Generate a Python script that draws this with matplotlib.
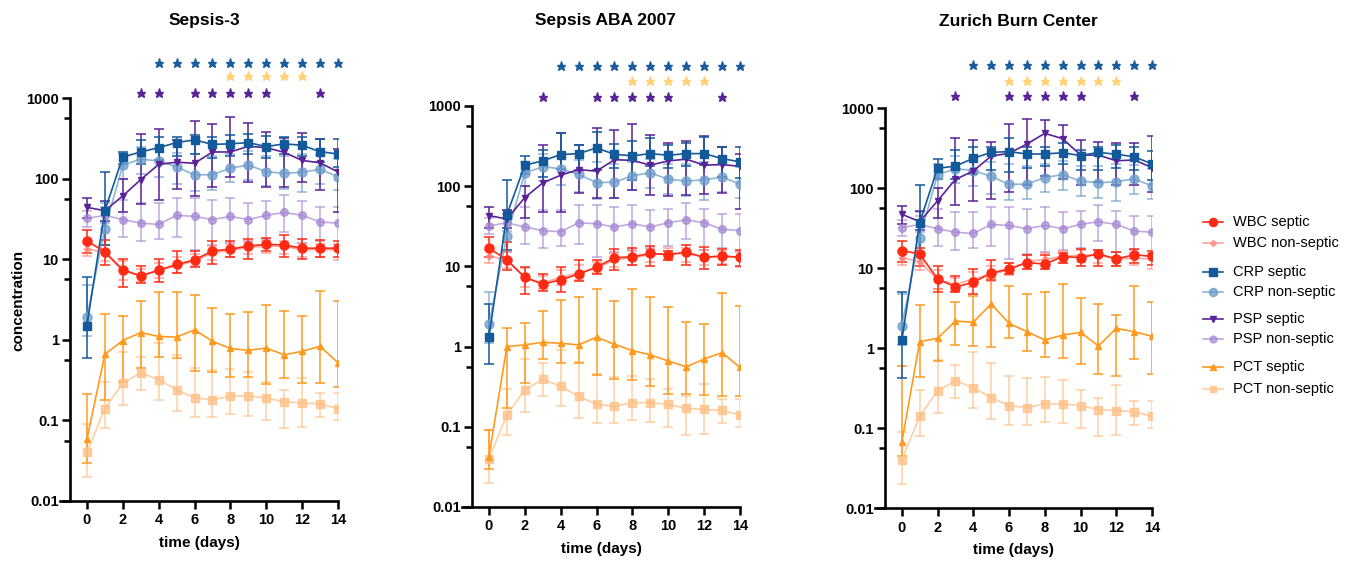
import numpy as np
import matplotlib.pyplot as plt
from matplotlib.lines import Line2D
from matplotlib.ticker import FixedLocator, FormatStrFormatter, NullFormatter

plt.rcParams['font.family'] = ['Liberation Sans', 'DejaVu Sans']

days = list(range(15))
titles = ["Sepsis-3", "Sepsis ABA 2007", "Zurich Burn Center"]
y_ticks = [0.01, 0.1, 1, 10, 100, 1000]

# non-septic groups (shared by the three definitions)
wbc_ns = [13.5, 12.0, 7.2, 6.2, 7.3, 8.3, 9.5, 12.0, 12.8, 14.0, 14.5, 14.5, 13.0, 13.2, 13.0]
wbc_ns_lo = [11, 9.5, 5.5, 5.2, 5.8, 6.8, 8.2, 9.8, 10.5, 11.5, 12, 11.5, 10.5, 10.8, 9.8]
wbc_ns_hi = [16, 15, 9.5, 7.6, 9.0, 10.5, 11.5, 14.5, 15.5, 16.5, 17, 17, 16, 15.5, 15.5]
crp_ns = [1.9, 24, 146, 175, 165, 140, 111, 112, 135, 147, 122, 116, 120, 130, 106]
crp_ns_lo = [1.1, 15, 100, 115, 105, 85, 70, 72, 90, 95, 80, 75, 68, 85, 72]
crp_ns_hi = [4.8, 50, 200, 250, 240, 210, 200, 190, 200, 220, 190, 190, 200, 195, 175]
psp_ns = [32, 35, 31, 28, 27, 35, 34, 31, 34, 31, 35, 38, 35, 29, 28]
psp_ns_lo = [25, 28, 19, 17, 18, 19, 13, 15, 16, 17, 18, 22, 16, 17, 15]
psp_ns_hi = [40, 45, 55, 50, 50, 58, 58, 55, 58, 50, 52, 62, 52, 45, 45]
pct_ns = [0.04, 0.14, 0.29, 0.39, 0.32, 0.24, 0.19, 0.18, 0.20, 0.20, 0.19, 0.17, 0.165, 0.16, 0.14]
pct_ns_lo = [0.02, 0.08, 0.155, 0.24, 0.18, 0.13, 0.11, 0.11, 0.12, 0.115, 0.10, 0.08, 0.082, 0.11, 0.10]
pct_ns_hi = [0.09, 0.30, 0.70, 0.62, 0.90, 0.65, 0.45, 0.42, 0.43, 0.40, 0.30, 0.24, 0.34, 0.22, 0.22]

# Sepsis-3
wbc_s1 = [16.9, 12.3, 7.4, 6.2, 7.3, 8.6, 9.8, 12.7, 13.3, 14.6, 15.3, 15.0, 13.7, 13.7, 13.7]
wbc_s1_lo = [12, 8.5, 4.5, 5.0, 5.2, 6.8, 8.0, 8.8, 10.5, 10.0, 12.5, 10.5, 10.0, 10.5, 10.5]
wbc_s1_hi = [23, 17.5, 10, 8.2, 10, 12.5, 12.5, 17, 17, 18, 18.5, 20, 18, 17.5, 17]
crp_s1 = [1.5, 40, 185, 214, 242, 280, 302, 266, 270, 280, 249, 270, 259, 216, 202]
crp_s1_lo = [0.6, 15, 150, 150, 170, 190, 200, 180, 190, 200, 180, 200, 190, 160, 140]
crp_s1_hi = [6.0, 120, 215, 300, 330, 330, 350, 330, 350, 360, 340, 330, 330, 310, 310]
psp_s1 = [44, 40, 61, 97, 150, 160, 155, 214, 214, 252, 242, 212, 168, 157, 121]
psp_s1_lo = [32, 30, 38, 48, 55, 75, 60, 78, 105, 92, 78, 78, 90, 72, 38]
psp_s1_hi = [58, 52, 100, 360, 410, 300, 520, 470, 580, 490, 380, 320, 370, 310, 230]
pct_s1 = [0.058, 0.66, 0.98, 1.23, 1.1, 1.08, 1.33, 0.96, 0.78, 0.74, 0.79, 0.65, 0.72, 0.83, 0.52]
pct_s1_lo = [0.03, 0.18, 0.30, 0.45, 0.62, 0.6, 0.41, 0.40, 0.35, 0.35, 0.28, 0.34, 0.29, 0.29, 0.26]
pct_s1_hi = [0.21, 2.1, 2.0, 3.0, 3.9, 3.9, 3.6, 2.5, 2.1, 2.2, 2.7, 2.3, 2.0, 4.0, 3.0]

# Sepsis ABA 2007
wbc_s2 = [16.9, 12.1, 7.3, 6.0, 6.8, 8.0, 9.8, 12.8, 13.2, 14.5, 14.0, 15.0, 13.0, 13.5, 13.0]
wbc_s2_lo = [13, 9, 4.5, 5.0, 4.8, 6.5, 8.0, 9.0, 10.5, 10.0, 12.0, 10.5, 9.3, 10.5, 10.0]
wbc_s2_hi = [23, 20, 9.8, 8.0, 9.8, 12.0, 12.0, 16.5, 17, 18, 15.5, 18.5, 17.5, 16.5, 16.0]
crp_s2 = [1.3, 44, 183, 207, 248, 255, 300, 250, 239, 255, 243, 255, 255, 221, 201]
crp_s2_lo = [0.6, 16, 140, 130, 165, 160, 160, 170, 120, 180, 170, 180, 185, 130, 125]
crp_s2_hi = [3.4, 120, 235, 280, 460, 330, 480, 340, 370, 400, 330, 350, 410, 310, 310]
psp_s2 = [43, 39, 72, 110, 137, 161, 154, 214, 210, 183, 207, 217, 183, 186, 177]
psp_s2_lo = [30, 30, 40, 48, 48, 82, 72, 72, 90, 78, 75, 78, 80, 82, 52]
psp_s2_hi = [55, 50, 100, 330, 460, 330, 530, 500, 600, 430, 350, 370, 420, 310, 250]
pct_s2 = [0.042, 1.0, 1.05, 1.13, 1.1, 1.05, 1.31, 1.07, 0.89, 0.79, 0.66, 0.56, 0.70, 0.84, 0.55]
pct_s2_lo = [0.03, 0.17, 0.35, 0.70, 0.63, 0.63, 0.44, 0.39, 0.38, 0.32, 0.26, 0.26, 0.25, 0.24, 0.24]
pct_s2_hi = [0.09, 1.7, 1.95, 2.75, 3.8, 4.2, 5.2, 3.7, 5.3, 4.1, 3.1, 2.0, 1.9, 4.6, 3.2]

# Zurich Burn Center
wbc_s3 = [16.5, 15.0, 7.3, 5.8, 6.6, 8.7, 9.7, 11.7, 11.2, 13.9, 13.5, 15.0, 13.0, 14.6, 14.0]
wbc_s3_lo = [12, 10.5, 5.0, 5.0, 4.8, 7.0, 8.5, 9.8, 9.8, 11.5, 10.5, 10.5, 10.5, 11.5, 11.0]
wbc_s3_hi = [22, 18, 10.5, 8.0, 9.8, 12.5, 11.5, 14.5, 14.5, 15.5, 17.5, 17.0, 16.0, 17.5, 16.5]
crp_s3 = [1.25, 37, 176, 188, 235, 279, 285, 266, 266, 276, 254, 279, 264, 246, 200]
crp_s3_lo = [0.42, 15, 130, 130, 150, 170, 160, 180, 190, 200, 170, 170, 180, 170, 125]
crp_s3_hi = [5.0, 110, 230, 300, 330, 330, 420, 330, 330, 370, 300, 330, 340, 330, 290]
psp_s3 = [47, 38, 69, 128, 163, 251, 271, 355, 482, 414, 258, 258, 219, 224, 180]
psp_s3_lo = [35, 30, 42, 62, 69, 72, 90, 110, 140, 130, 110, 120, 110, 110, 90]
psp_s3_hi = [60, 52, 100, 420, 400, 380, 640, 720, 700, 610, 400, 380, 370, 370, 450]
pct_s3 = [0.066, 1.2, 1.32, 2.17, 2.1, 3.55, 2.03, 1.6, 1.26, 1.45, 1.57, 1.06, 1.76, 1.6, 1.4]
pct_s3_lo = [0.045, 0.43, 0.68, 1.1, 1.06, 1.02, 1.32, 0.93, 0.78, 0.74, 0.64, 0.47, 0.45, 0.72, 0.47]
pct_s3_hi = [0.6, 3.4, 5.5, 3.8, 4.5, 7.4, 5.95, 4.7, 5.0, 6.3, 4.2, 3.5, 2.6, 5.9, 3.8]

# significance stars per panel (days)
stars_crp = [list(range(4, 15)), list(range(4, 15)), list(range(4, 15))]
stars_pct = [[8, 9, 10, 11, 12], [8, 9, 10, 11, 12], [6, 7, 8, 9, 10, 11, 12]]
stars_psp = [[3, 4, 6, 7, 8, 9, 10, 13], [3, 6, 7, 8, 9, 10, 13], [3, 6, 7, 8, 9, 10, 13]]

panels = [
    {'wbc_s': (wbc_s1, wbc_s1_lo, wbc_s1_hi), 'crp_s': (crp_s1, crp_s1_lo, crp_s1_hi),
     'psp_s': (psp_s1, psp_s1_lo, psp_s1_hi), 'pct_s': (pct_s1, pct_s1_lo, pct_s1_hi)},
    {'wbc_s': (wbc_s2, wbc_s2_lo, wbc_s2_hi), 'crp_s': (crp_s2, crp_s2_lo, crp_s2_hi),
     'psp_s': (psp_s2, psp_s2_lo, psp_s2_hi), 'pct_s': (pct_s2, pct_s2_lo, pct_s2_hi)},
    {'wbc_s': (wbc_s3, wbc_s3_lo, wbc_s3_hi), 'crp_s': (crp_s3, crp_s3_lo, crp_s3_hi),
     'psp_s': (psp_s3, psp_s3_lo, psp_s3_hi), 'pct_s': (pct_s3, pct_s3_lo, pct_s3_hi)},
]
for p in panels:
    p['wbc_ns'] = (wbc_ns, wbc_ns_lo, wbc_ns_hi)
    p['crp_ns'] = (crp_ns, crp_ns_lo, crp_ns_hi)
    p['psp_ns'] = (psp_ns, psp_ns_lo, psp_ns_hi)
    p['pct_ns'] = (pct_ns, pct_ns_lo, pct_ns_hi)

# key, label, color, marker, markersize, alpha  (drawing order)
series = [
    ('pct_ns', 'PCT non-septic', '#ffbf85', 's', 5.5, 0.75),
    ('pct_s', 'PCT septic', '#ff9a1f', '^', 4.5, 1.0),
    ('psp_ns', 'PSP non-septic', '#a486d2', 'o', 5.5, 0.7),
    ('crp_ns', 'CRP non-septic', '#6a9bc9', 'o', 6.5, 0.75),
    ('wbc_ns', 'WBC non-septic', '#ff8a80', 'D', 3.5, 0.75),
    ('psp_s', 'PSP septic', '#5a2297', 'v', 5.0, 1.0),
    ('crp_s', 'CRP septic', '#135a9a', 's', 6.0, 1.0),
    ('wbc_s', 'WBC septic', '#ff2a14', 'o', 6.5, 1.0),
]
legend_order = ['wbc_s', 'wbc_ns', 'crp_s', 'crp_ns', 'psp_s', 'psp_ns', 'pct_s', 'pct_ns']
legend_ypix = [222, 243, 272, 292, 319, 339, 367, 389]

W, H = 1351, 561
fig = plt.figure(figsize=(W / 100, H / 100), dpi=100)

# axes boxes in pixels: left, right, bottom, top (x axis line starts 10px left of y axis)
boxes = [(60, 338, 501, 98), (462, 740, 507, 106), (875, 1152, 508, 108)]
star_rows = [(1.087, 1.055, 1.012), (1.100, 1.062, 1.023), (1.107, 1.068, 1.030)]

for i, (p, box) in enumerate(zip(panels, boxes)):
    l, r, b, t = box
    ax = fig.add_axes([l / W, 1 - b / H, (r - l) / W, (b - t) / H])
    ax.set_yscale('log')
    ax.set_xlim(-1.5, 14)
    ax.set_ylim(0.01, 1000)

    for key, label, color, marker, ms, alpha in series:
        mean, lo, hi = (np.array(v, dtype=float) for v in p[key])
        ax.errorbar(days, mean, yerr=[mean - lo, hi - mean], color=color, marker=marker,
                    ms=ms, mec=color, lw=1.2, elinewidth=1.1, capsize=3.5, capthick=1.1,
                    alpha=alpha)

    # significance stars above the plot
    tr = ax.get_xaxis_transform()
    yb, yy, yp = star_rows[i]
    ax.plot(stars_crp[i], [yb] * len(stars_crp[i]), ls='none', marker='*', ms=6.5,
            color='#1b5d9c', transform=tr, clip_on=False)
    ax.plot(stars_pct[i], [yy] * len(stars_pct[i]), ls='none', marker='*', ms=6.5,
            color='#ffd27a', transform=tr, clip_on=False)
    ax.plot(stars_psp[i], [yp] * len(stars_psp[i]), ls='none', marker='*', ms=6.5,
            color='#5a2297', transform=tr, clip_on=False)

    for side in ['top', 'right']:
        ax.spines[side].set_visible(False)
    for side in ['left', 'bottom']:
        ax.spines[side].set_linewidth(1.9)
    ax.spines['left'].set_position(('data', -0.95))
    ax.spines['bottom'].set_bounds(-1.5, 14)

    ax.set_xticks(range(0, 15, 2))
    ax.yaxis.set_major_locator(FixedLocator(y_ticks))
    ax.yaxis.set_minor_locator(FixedLocator([10 ** (k + 0.75) for k in range(-2, 3)]))
    ax.yaxis.set_major_formatter(FormatStrFormatter('%g'))
    ax.yaxis.set_minor_formatter(NullFormatter())
    ax.tick_params(which='major', direction='out', length=6, width=1.8, pad=2,
                   labelsize=10.5)
    ax.tick_params(which='minor', direction='out', length=4, width=1.8)
    ax.tick_params(axis='x', pad=3)
    for lab in ax.get_xticklabels() + ax.get_yticklabels():
        lab.set_fontweight('bold')
    ax.set_xlabel('time (days)', fontsize=11, fontweight='bold', labelpad=6)

    yaxis_px = l + 0.55 * (r - l) / 15.5
    xc = (yaxis_px + r) / 2
    fig.text(xc / W, 1 - 21 / H, titles[i], ha='center', va='center',
             fontsize=12.5, fontweight='bold')

fig.text(18 / W, 1 - 300 / H, 'concentration', rotation=90, ha='center', va='center',
         fontsize=11, fontweight='bold')

# legend, drawn in groups of two
styles = {s[0]: s for s in series}
for key, ypix in zip(legend_order, legend_ypix):
    _, label, color, marker, ms, alpha = styles[key]
    yf = 1 - ypix / H
    fig.add_artist(Line2D([1203 / W, 1223 / W], [yf, yf], color=color, lw=1.2, alpha=alpha))
    fig.add_artist(Line2D([1213 / W], [yf], color=color, marker=marker, ms=ms * 0.9,
                          mec=color, alpha=alpha))
    fig.text(1233 / W, yf, label, ha='left', va='center', fontsize=10.5)

fig.savefig('out.png', dpi=100)
